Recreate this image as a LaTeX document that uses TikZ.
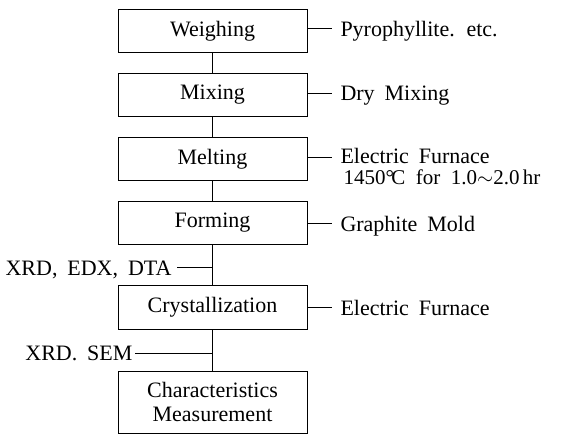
\documentclass[tikz,border=0pt]{standalone}
\usepackage{fontspec}
\setmainfont{Liberation Serif}
\newcommand\myfont{\fontsize{22}{23}\selectfont\spaceskip=0.45em plus 0.1em minus 0.05em\relax}
\newcommand\myfontc{\fontsize{22}{21}\selectfont\spaceskip=0.45em plus 0.1em minus 0.05em\relax}
\newcommand\myfontb{\fontsize{21}{21}\selectfont\spaceskip=0.45em plus 0.1em minus 0.05em\relax}
\begin{document}
\begin{tikzpicture}[x=1pt,y=-1pt,line width=1pt,
  every node/.style={font=\myfont},
  stepbox/.style={draw,line width=1pt,minimum width=189pt,minimum height=43pt,inner sep=0pt,align=center},
  rlab/.style={anchor=west,inner xsep=8pt,inner ysep=0pt,text height=14.5pt,text depth=0pt},
  llab/.style={anchor=east,inner xsep=3pt,inner ysep=0pt,text height=14.5pt,text depth=0pt}]
\useasboundingbox (0,0) rectangle (567,435);
\node[stepbox] (w) at (212.5,31) {Weighing};
\node[stepbox] (m) at (212.5,95) {Mixing};
\node[stepbox] (me) at (212.5,159.5) {Melting};
\node[stepbox] (f) at (212.5,223) {Forming};
\node[stepbox] (c) at (212.5,307.5) {Crystallization};
\node[stepbox,minimum height=62pt] (ch) at (212.5,402) {Characteristics\\[1pt]Measurement};
\draw (w) -- (m);
\draw (m) -- (me);
\draw (me) -- (f);
\draw (f) -- (c);
\draw (c) -- (ch);
% right labels
\node[rlab] (lw) at (332,29) {Pyrophyllite. etc.};
\node[rlab] (lm) at (332,93.5) {Dry Mixing};
\node[anchor=base west,inner sep=0pt,align=left,font=\myfontc] (lme) at (340,185) {Electric Furnace\\\hspace*{3pt}{\myfontb 1450°\kern-0.12em C\enspace for\enspace 1.0$\sim$2.0\,hr}};
\coordinate (lmec) at (332,157.5);
\node[rlab] (lf) at (332,224) {Graphite Mold};
\node[rlab] (lc) at (332,308) {Electric Furnace};
\draw (lw.west -| w.east) -- (lw.west);
\draw (lm.west -| m.east) -- (lm.west);
\draw (lmec -| me.east) -- (lmec);
\draw (lf.west -| f.east) -- (lf.west);
\draw (lc.west -| c.east) -- (lc.west);
% left labels
\node[llab,inner xsep=5pt] (x1) at (177,268) {XRD, EDX, DTA};
\node[llab,inner xsep=2pt] (x2) at (135,353) {XRD. SEM};
\coordinate (t1) at (212.5,268);
\coordinate (t2) at (212.5,353);
\draw (x1.east) -- (t1);
\draw (x2.east) -- (t2);
\end{tikzpicture}
\end{document}
